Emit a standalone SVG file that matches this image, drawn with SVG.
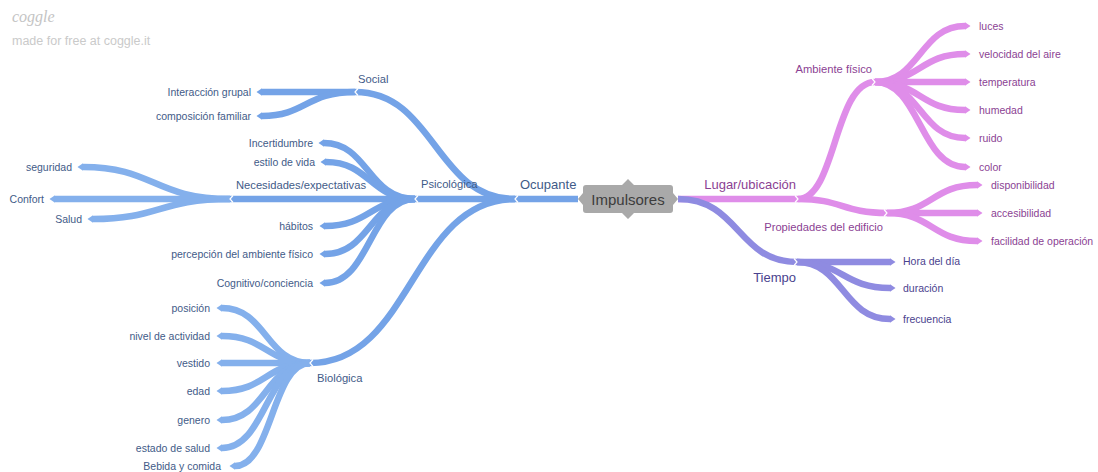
<svg xmlns="http://www.w3.org/2000/svg" width="1098" height="472" viewBox="0 0 1098 472">
  <defs>
    <style>
      .lbl { font-family: "Liberation Sans", Arial, sans-serif; font-size: 10.5px; }
      .mid { font-family: "Liberation Sans", Arial, sans-serif; font-size: 11.2px; }
      .big { font-family: "Liberation Sans", Arial, sans-serif; font-size: 13px; }
      .tb { fill: #3f5b88; }
      .tp { fill: #8b3f93; }
      .tv { fill: #4a428e; }
      .eb { fill: none; stroke: #74a3e7; stroke-width: 6.5; }
      .eb2 { fill: none; stroke: #84b0ec; stroke-width: 6.5; }
      .ep { fill: none; stroke: #df8de9; stroke-width: 6.5; }
      .ev { fill: none; stroke: #8f8be1; stroke-width: 6.5; }
      .lb { marker-end: url(#tipB); }
      .lb2 { marker-end: url(#tipB2); }
      .lp { marker-end: url(#tipP); }
      .lv { marker-end: url(#tipV); }
      .notch { fill: none; stroke: #ffffff; stroke-width: 1.2; stroke-linejoin: miter; }
    </style>
    <marker id="tipB" markerUnits="userSpaceOnUse" viewBox="0 0 6 8" markerWidth="6" markerHeight="8" refX="0" refY="4" orient="auto">
      <path d="M0,0.3 L5.5,4 L0,7.7 z" fill="#74a3e7"/>
    </marker>
    <marker id="tipB2" markerUnits="userSpaceOnUse" viewBox="0 0 6 8" markerWidth="6" markerHeight="8" refX="0" refY="4" orient="auto">
      <path d="M0,0.3 L5.5,4 L0,7.7 z" fill="#84b0ec"/>
    </marker>
    <marker id="tipP" markerUnits="userSpaceOnUse" viewBox="0 0 6 8" markerWidth="6" markerHeight="8" refX="0" refY="4" orient="auto">
      <path d="M0,0.3 L5.5,4 L0,7.7 z" fill="#df8de9"/>
    </marker>
    <marker id="tipV" markerUnits="userSpaceOnUse" viewBox="0 0 6 8" markerWidth="6" markerHeight="8" refX="0" refY="4" orient="auto">
      <path d="M0,0.3 L5.5,4 L0,7.7 z" fill="#8f8be1"/>
    </marker>
  </defs>

  <rect width="1098" height="472" fill="#ffffff"/>

  <!-- watermark -->
  <g id="watermark">
    <text x="12" y="22" font-family="'Liberation Serif', serif" font-style="italic" font-size="16" fill="#c4c4c4">coggle</text>
    <text x="12" y="45" font-family="'Liberation Sans', Arial, sans-serif" font-size="12.5" fill="#cacaca">made for free at coggle.it</text>
  </g>

  <!-- branches -->
  <g id="connectors">
    <!-- right side: place / time -->
    <path class="ep" d="M678 199 L798 199"/>
    <path class="ep" d="M798 199 C836 199 834 82 875 82"/>
    <path class="ep" d="M798 199 C842 199 842 213 887 213"/>
    <path class="ep lp" d="M875 82 C920 82 920 26 965 26"/>
    <path class="ep lp" d="M875 82 C920 82 920 54 965 54"/>
    <path class="ep lp" d="M875 82 L965 82"/>
    <path class="ep lp" d="M875 82 C920 82 920 110 965 110"/>
    <path class="ep lp" d="M875 82 C920 82 920 138 965 138"/>
    <path class="ep lp" d="M875 82 C920 82 920 167 965 167"/>
    <path class="ep lp" d="M887 213 C932 213 932 185 977 185"/>
    <path class="ep lp" d="M887 213 L977 213"/>
    <path class="ep lp" d="M887 213 C932 213 932 241 977 241"/>
    <path class="ev" d="M678 199 C740 199 737 262 797 262"/>
    <path class="ev lv" d="M797 262 L890 262"/>
    <path class="ev lv" d="M797 262 C843 262 843 288 890 288"/>
    <path class="ev lv" d="M797 262 C843 262 843 319 890 319"/>

    <!-- left side: occupant -->
    <path class="eb" d="M578 199 L515 199"/>
    <path class="eb" d="M515 199 C435 199 435 92 355 92"/>
    <path class="eb" d="M515 199 L415 199"/>
    <path class="eb" d="M515 199 C412 199 412 363 310 363"/>
    <path class="eb lb" d="M355 92 L262 92"/>
    <path class="eb lb" d="M355 92 C306 92 306 116 262 116"/>
    <path class="eb" d="M415 199 L230 199"/>
    <path class="eb lb" d="M415 199 C368 199 368 143 324 143"/>
    <path class="eb lb" d="M415 199 C370 199 370 162 326 162"/>
    <path class="eb lb" d="M415 199 C370 199 370 226 325 226"/>
    <path class="eb lb" d="M415 199 C370 199 370 254 325 254"/>
    <path class="eb lb" d="M415 199 C370 199 370 283 325 283"/>
    <path class="eb2 lb2" d="M230 199 C154 199 154 167 83 167"/>
    <path class="eb2 lb2" d="M230 199 L55 199"/>
    <path class="eb2 lb2" d="M230 199 C159 199 159 219 93 219"/>
    <path class="eb2 lb2" d="M310 363 C266 363 266 308 222 308"/>
    <path class="eb2 lb2" d="M310 363 C266 363 266 336 222 336"/>
    <path class="eb2 lb2" d="M310 363 L222 363"/>
    <path class="eb2 lb2" d="M310 363 C266 363 266 391 222 391"/>
    <path class="eb2 lb2" d="M310 363 C266 363 266 420 222 420"/>
    <path class="eb2 lb2" d="M310 363 C266 363 266 448 222 448"/>
    <path class="eb2 lb2" d="M310 363 C272 363 272 466 235 466"/>

    <!-- junction notches -->
    <path class="notch" d="M518 195.5 L515 199 L518 202.5"/>
    <path class="notch" d="M418 195.5 L415 199 L418 202.5"/>
    <path class="notch" d="M233 195.5 L230 199 L233 202.5"/>
    <path class="notch" d="M358 88.5 L355 92 L358 95.5"/>
    <path class="notch" d="M313 359.5 L310 363 L313 366.5"/>
    <path class="notch" d="M795 195.5 L798 199 L795 202.5"/>
    <path class="notch" d="M872 78.5 L875 82 L872 85.5"/>
    <path class="notch" d="M884 209.5 L887 213 L884 216.5"/>
    <path class="notch" d="M794 258.5 L797 262 L794 265.5"/>
  </g>

  <!-- central node -->
  <g id="impulsores">
    <path d="M586 185 L622 185 L628 179 L634 185 L670 185 Q673 185 673 188 L673 193 L678 199 L673 205 L673 210 Q673 213 670 213 L634 213 L628 219 L622 213 L586 213 Q583 213 583 210 L583 205 L578 199 L583 193 L583 188 Q583 185 586 185 Z" fill="#a9a9a9"/>
    <text x="628" y="205" text-anchor="middle" font-family="'Liberation Sans', Arial, sans-serif" font-size="15" fill="#3c3c3c">Impulsores</text>
  </g>

  <!-- occupant branch -->
  <g id="ocupante"><text class="big tb" x="520" y="189">Ocupante</text></g>
  <g id="social"><text class="mid tb" x="358" y="83">Social</text></g>
  <g id="interaccion-grupal"><text class="lbl tb" x="251" y="96" text-anchor="end">Interacción grupal</text></g>
  <g id="composicion-familiar"><text class="lbl tb" x="251" y="120" text-anchor="end">composición familiar</text></g>
  <g id="psicologica"><text class="mid tb" x="421" y="188">Psicológica</text></g>
  <g id="incertidumbre"><text class="lbl tb" x="313" y="147" text-anchor="end">Incertidumbre</text></g>
  <g id="estilo-de-vida"><text class="lbl tb" x="315" y="166" text-anchor="end">estilo de vida</text></g>
  <g id="necesidades"><text class="mid tb" x="236" y="189">Necesidades/expectativas</text></g>
  <g id="seguridad"><text class="lbl tb" x="72" y="171" text-anchor="end">seguridad</text></g>
  <g id="confort"><text class="lbl tb" x="44" y="203" text-anchor="end">Confort</text></g>
  <g id="salud"><text class="lbl tb" x="82" y="223" text-anchor="end">Salud</text></g>
  <g id="habitos"><text class="lbl tb" x="313" y="230" text-anchor="end">hábitos</text></g>
  <g id="percepcion"><text class="lbl tb" x="313" y="258" text-anchor="end">percepción del ambiente físico</text></g>
  <g id="cognitivo"><text class="lbl tb" x="313" y="287" text-anchor="end">Cognitivo/conciencia</text></g>
  <g id="biologica"><text class="mid tb" x="317" y="382">Biológica</text></g>
  <g id="posicion"><text class="lbl tb" x="210" y="312" text-anchor="end">posición</text></g>
  <g id="nivel-actividad"><text class="lbl tb" x="210" y="340" text-anchor="end">nivel de actividad</text></g>
  <g id="vestido"><text class="lbl tb" x="210" y="367" text-anchor="end">vestido</text></g>
  <g id="edad"><text class="lbl tb" x="210" y="395" text-anchor="end">edad</text></g>
  <g id="genero"><text class="lbl tb" x="210" y="424" text-anchor="end">genero</text></g>
  <g id="estado-salud"><text class="lbl tb" x="210" y="452" text-anchor="end">estado de salud</text></g>
  <g id="bebida-comida"><text class="lbl tb" x="221" y="470" text-anchor="end">Bebida y comida</text></g>

  <!-- place branch -->
  <g id="lugar"><text class="big tp" x="796" y="189" text-anchor="end">Lugar/ubicación</text></g>
  <g id="ambiente-fisico"><text class="mid tp" x="872" y="73" text-anchor="end">Ambiente físico</text></g>
  <g id="luces"><text class="lbl tp" x="979" y="30">luces</text></g>
  <g id="velocidad-aire"><text class="lbl tp" x="979" y="58">velocidad del aire</text></g>
  <g id="temperatura"><text class="lbl tp" x="979" y="86">temperatura</text></g>
  <g id="humedad"><text class="lbl tp" x="979" y="114">humedad</text></g>
  <g id="ruido"><text class="lbl tp" x="979" y="142">ruido</text></g>
  <g id="color"><text class="lbl tp" x="979" y="171">color</text></g>
  <g id="propiedades"><text class="mid tp" x="883" y="231" text-anchor="end">Propiedades del edificio</text></g>
  <g id="disponibilidad"><text class="lbl tp" x="991" y="189">disponibilidad</text></g>
  <g id="accesibilidad"><text class="lbl tp" x="991" y="217">accesibilidad</text></g>
  <g id="facilidad"><text class="lbl tp" x="991" y="245">facilidad de operación</text></g>

  <!-- time branch -->
  <g id="tiempo"><text class="big tv" x="796" y="282" text-anchor="end">Tiempo</text></g>
  <g id="hora-dia"><text class="lbl tv" x="903" y="265">Hora del día</text></g>
  <g id="duracion"><text class="lbl tv" x="903" y="292">duración</text></g>
  <g id="frecuencia"><text class="lbl tv" x="903" y="323">frecuencia</text></g>
</svg>
